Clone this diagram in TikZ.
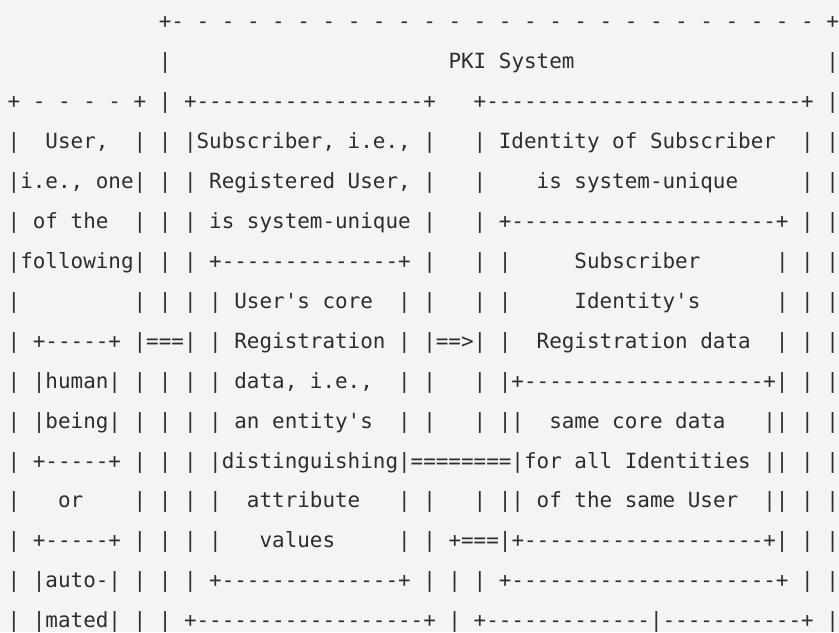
\documentclass[tikz,border=0pt]{standalone}
\usepackage{fontspec}
\setmonofont{DejaVu Sans Mono}
\usetikzlibrary{positioning}
\usepackage{xcolor}
\definecolor{PaperGray}{RGB}{244,244,244}
\definecolor{InkGray}{RGB}{45,45,45}

\begin{document}
\begin{tikzpicture}[
    x=0.75pt, y=0.75pt,
    row/.style={anchor=base west, inner sep=0pt, outer sep=0pt, text=InkGray, font=\ttfamily\fontsize{15.7pt}{20pt}\selectfont}
  ]
  \fill[PaperGray] (0,0) rectangle (839,632);

  % PKI System frame
  \node (r1) [row] at (7.7,603.7) {~~~~~~~~~~~~+-~-~-~-~-~-~-~-~-~-~-~-~-~-~-~-~-~-~-~-~-~-~-~-~-~-~+};
  \node (r2) [row, below=30pt of r1.base west, anchor=base west] {~~~~~~~~~~~~|~~~~~~~~~~~~~~~~~~~~~~PKI~System~~~~~~~~~~~~~~~~~~~~|};
  \node (r3) [row, below=30pt of r2.base west, anchor=base west] {+~-~-~-~-~+~|~+------------------+~~~+-------------------------+~|};
  \node (r4) [row, below=30pt of r3.base west, anchor=base west] {|~~User,~~|~|~|Subscriber,~i.e.,~|~~~|~Identity~of~Subscriber~~|~|};
  \node (r5) [row, below=30pt of r4.base west, anchor=base west] {|i.e.,~one|~|~|~Registered~User,~|~~~|~~~~is~system-unique~~~~~|~|};
  \node (r6) [row, below=30pt of r5.base west, anchor=base west] {|~of~the~~|~|~|~is~system-unique~|~~~|~+---------------------+~|~|};
  \node (r7) [row, below=30pt of r6.base west, anchor=base west] {|following|~|~|~+--------------+~|~~~|~|~~~~~Subscriber~~~~~~|~|~|};
  \node (r8) [row, below=30pt of r7.base west, anchor=base west] {|~~~~~~~~~|~|~|~|~User's~core~~|~|~~~|~|~~~~~Identity's~~~~~~|~|~|};

  % arrows between the boxes
  \node (r9) [row, below=30pt of r8.base west, anchor=base west] {|~+-----+~|===|~|~Registration~|~|==>|~|~~Registration~data~~|~|~|};
  \node (r10) [row, below=30pt of r9.base west, anchor=base west] {|~|human|~|~|~|~|~data,~i.e.,~~|~|~~~|~|+-------------------+|~|~|};
  \node (r11) [row, below=30pt of r10.base west, anchor=base west] {|~|being|~|~|~|~|~an~entity's~~|~|~~~|~||~~same~core~data~~~||~|~|};
  \node (r12) [row, below=30pt of r11.base west, anchor=base west] {|~+-----+~|~|~|~|distinguishing|========|for~all~Identities~||~|~|};
  \node (r13) [row, below=30pt of r12.base west, anchor=base west] {|~~~or~~~~|~|~|~|~~attribute~~~|~|~~~|~||~of~the~same~User~~||~|~|};
  \node (r14) [row, below=30pt of r13.base west, anchor=base west] {|~+-----+~|~|~|~|~~~values~~~~~|~|~+===|+-------------------+|~|~|};
  \node (r15) [row, below=30pt of r14.base west, anchor=base west] {|~|auto-|~|~|~|~+--------------+~|~|~|~+---------------------+~|~|};
  \node (r16) [row, below=30pt of r15.base west, anchor=base west] {|~|mated|~|~|~+------------------+~|~+-------------|-----------+~|};
\end{tikzpicture}
\end{document}
